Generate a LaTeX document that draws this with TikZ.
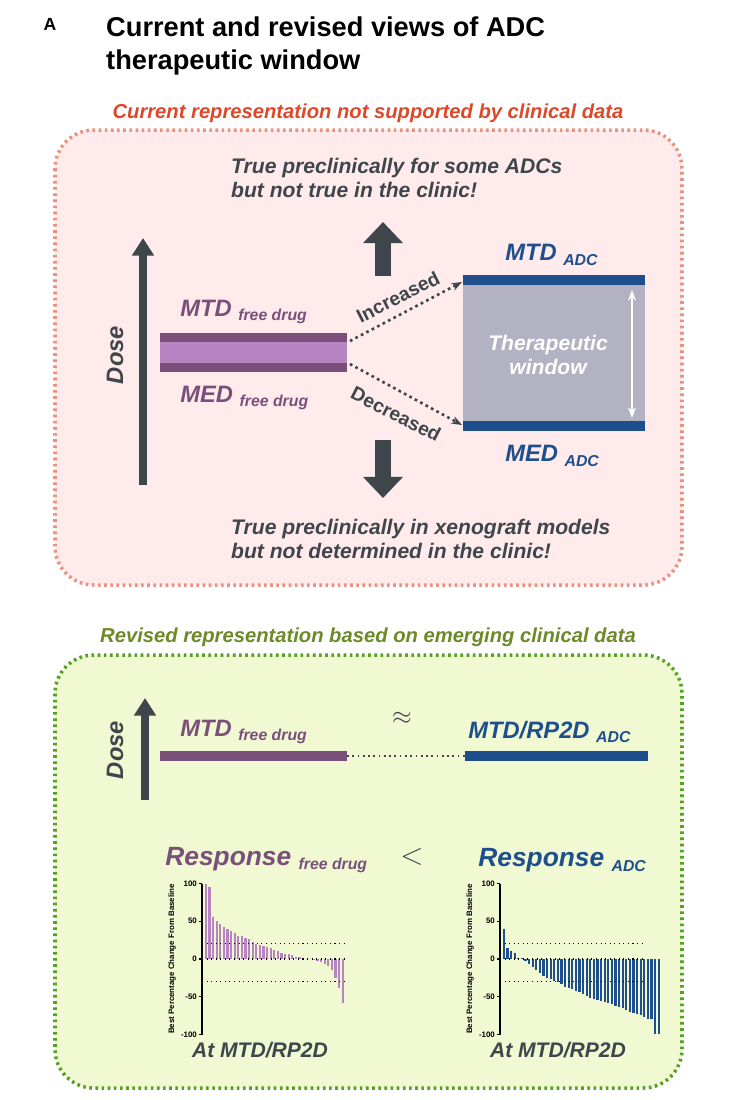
\documentclass[tikz,border=0pt]{standalone}
\usepackage{fontspec}
\setmainfont{Liberation Sans}
\usepackage{tikz}
\usetikzlibrary{arrows.meta}
\definecolor{adcblue}{RGB}{30,78,140}
\definecolor{drugpurple}{RGB}{122,80,122}
\definecolor{druglight}{RGB}{182,132,192}
\definecolor{darkgray}{RGB}{62,70,76}
\definecolor{redhead}{RGB}{222,72,42}
\definecolor{greenhead}{RGB}{108,138,40}
\newcommand{\lowsub}[1]{\raisebox{-0.35ex}{\fontsize{9}{10}\selectfont\bfseries\itshape #1}}
\begin{document}
\begin{tikzpicture}[x=0.02cm,y=-0.02cm]
    \tikzstyle{head} = [font=\fontsize{11.5}{13}\selectfont\bfseries\itshape]
    \tikzstyle{note} = [font=\fontsize{12}{14}\selectfont\bfseries\itshape,text=darkgray,anchor=west,align=left]
    \tikzstyle{big} = [font=\fontsize{13.5}{15}\selectfont\bfseries\itshape,anchor=west,inner sep=0pt]
    \tikzstyle{dosearrow} = [draw=darkgray,line width=4pt,-{Triangle[length=10pt,width=12pt]}]
    \tikzstyle{block} = [draw=darkgray,line width=9pt,-{Triangle[length=12pt,width=22pt]}]
    \tikzstyle{tick} = [font=\fontsize{4.5}{5}\selectfont\bfseries,anchor=east,inner sep=1pt]
    \useasboundingbox (0,0) rectangle (736,1100);
    \fill[white] (0,0) rectangle (736,1100);
    % title
    \node[font=\fontsize{10}{12}\selectfont\bfseries] at (50,24) {A};
    \node[anchor=west,align=left,font=\fontsize{15.5}{18.5}\selectfont\bfseries] (title) at (100,46)
        {Current and revised views of ADC\\therapeutic window};
    % upper panel
    \node[head,text=redhead] (curhead) at (368,113) {Current representation not supported by clinical data};
    \draw[draw=redhead!60,fill=red!8,line width=2pt,dash pattern=on 1.5pt off 2pt,rounded corners=22pt]
        (55,130) rectangle (682,585);
    \node[note] (uptext) at (225,178) {True preclinically for some ADCs\\but not true in the clinic!};
    \node[note] (downtext) at (225,539) {True preclinically in xenograft models\\but not determined in the clinic!};
    \draw[dosearrow] (143,485) -- (143,238);
    \node[rotate=90,font=\fontsize{13.5}{15}\selectfont\bfseries\itshape,text=darkgray] (dose1) at (115,355) {Dose};
    \fill[druglight] (160,333) rectangle (347,372);
    \fill[drugpurple] (160,333) rectangle (347,342);
    \fill[drugpurple] (160,363) rectangle (347,372);
    \node[big,text=drugpurple] (mtdfree) at (180,312) {MTD \lowsub{free drug}};
    \node[big,text=drugpurple] (medfree) at (180,398) {MED \lowsub{free drug}};
    \draw[block] (383,276) -- (383,222);
    \draw[block] (383,440) -- (383,498);
    \fill[fill={rgb,255:red,178;green,178;blue,194}] (463,280) rectangle (645,426);
    \fill[adcblue] (463,275) rectangle (645,285);
    \fill[adcblue] (463,421) rectangle (645,431);
    \draw[white,line width=1.5pt,{Stealth[length=6pt]}-{Stealth[length=6pt]}] (632,290) -- (632,418);
    \node[align=center,text=white,font=\fontsize{12}{14}\selectfont\bfseries\itshape] (window) at (548,355) {Therapeutic\\window};
    \node[big,text=adcblue] (mtdadc) at (505,255) {MTD \lowsub{ADC}};
    \node[big,text=adcblue] (medadc) at (505,456) {MED \lowsub{ADC}};
    \coordinate (inc0) at (350,341);
    \coordinate (inc1) at (462,282);
    \coordinate (dec0) at (350,364);
    \coordinate (dec1) at (462,425);
    \draw[darkgray,line width=1.5pt,dotted,-{Stealth[length=6pt]}] (inc0) -- (inc1);
    \draw[darkgray,line width=1.5pt,dotted,-{Stealth[length=6pt]}] (dec0) -- (dec1);
    \node[rotate=27,text=darkgray,font=\fontsize{11}{13}\selectfont\bfseries] at (398,297) {Increased};
    \node[rotate=-27,text=darkgray,font=\fontsize{11}{13}\selectfont\bfseries] at (396,414) {Decreased};
    % lower panel
    \node[head,text=greenhead] (revhead) at (368,637) {Revised representation based on emerging clinical data};
    \draw[draw=greenhead!80!green,fill={rgb,255:red,240;green,249;blue,210},line width=2pt,dash pattern=on 1.5pt off 2pt,rounded corners=22pt]
        (55,655) rectangle (682,1088);
    \draw[dosearrow] (145,800) -- (145,698);
    \node[rotate=90,font=\fontsize{13.5}{15}\selectfont\bfseries\itshape,text=darkgray] (dose2) at (115,750) {Dose};
    \node[big,text=drugpurple] (mtdfree2) at (180,732) {MTD \lowsub{free drug}};
    \node[big,text=adcblue] (mtdadc2) at (468,732) {MTD/RP2D \lowsub{ADC}};
    \node[font=\fontsize{15}{17}\selectfont\bfseries,text=darkgray] at (402,718) {$\approx$};
    \fill[drugpurple] (160,751) rectangle (347,761);
    \fill[adcblue] (465,751) rectangle (648,761);
    \draw[darkgray,line width=1pt,dotted] (347,756) -- (465,756);
    \node[big,text=drugpurple,font=\fontsize{15}{17}\selectfont\bfseries\itshape] (respfree) at (165,860) {Response \lowsub{free drug}};
    \node[big,text=adcblue,font=\fontsize{15}{17}\selectfont\bfseries\itshape] (respadc) at (478,860) {Response \lowsub{ADC}};
    \node[font=\fontsize{18}{20}\selectfont\bfseries,text=darkgray] at (412,857) {$<$};
    % charts
    \foreach \ox/\col/\data in {202/druglight/{100,95,56,51,46,43,40,37,35,31,31,28,26,22,20,18,17,16,14,12,10,8,7,6,5,3,3,1,0,0,-1,-3,-4,-6,-9,-14,-25,-39,-58},
                               500/adcblue/{40,15,11,8,2,1,-2,-6,-10,-14,-18,-22,-25,-27,-29,-31,-33,-37,-38,-40,-42,-44,-47,-49,-51,-53,-54,-55,-57,-58,-60,-62,-64,-65,-67,-70,-72,-73,-74,-77,-79,-80,-99,-99}}{
        \begin{scope}[shift={(\ox,959)}]
        \foreach \v [count=\i] in \data {
            \fill[\col] ({3.6*\i-0.8},0) rectangle ++(2.2,{-0.755*\v});
        }
        \draw[line width=0.6pt] (0,-75.5) -- (0,75.5);
        \foreach \t in {100,50,0,-50,-100} {
            \draw[line width=0.6pt] (0,{-0.755*\t}) -- ++(-3,0);
            \node[tick] at (-3,{-0.755*\t}) {\t};
        }
        \draw[dotted,line width=0.6pt] (0,0) -- (143,0);
        \draw[dotted,line width=0.6pt] (0,-15.1) -- (143,-15.1);
        \draw[dotted,line width=0.6pt] (0,22.6) -- (143,22.6);
        \node[rotate=90,font=\fontsize{4.5}{5}\selectfont\bfseries] at (-30,0) {Best Percentage Change From Baseline};
        \node[font=\fontsize{12}{14}\selectfont\bfseries\itshape,text=darkgray] at (58,91) {At MTD/RP2D};
        \end{scope}
    }
\end{tikzpicture}
\end{document}
